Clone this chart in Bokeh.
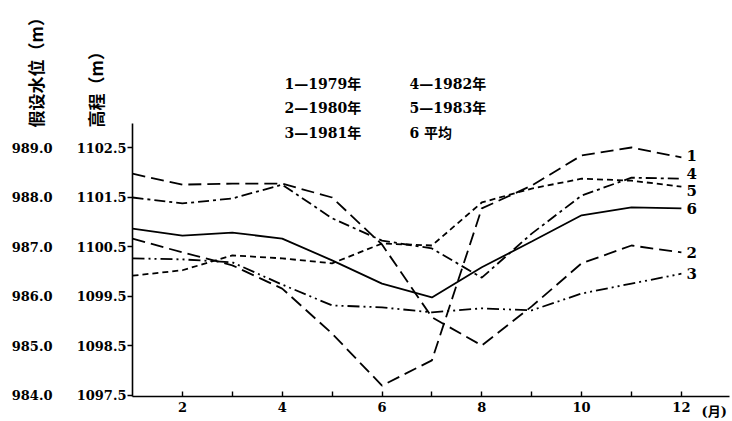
import numpy as np
from bokeh.plotting import figure
from bokeh.models import Range1d, LinearAxis, FixedTicker, Label, ColumnDataSource
from bokeh.core.properties import value
from bokeh.embed import file_html
from bokeh.resources import INLINE

# ---------------- data ----------------
months = [1, 2, 3, 4, 5, 6, 7, 8, 9, 10, 11, 12]
elev_1979 = [1100.66, 1100.38, 1100.12, 1099.65, 1098.74, 1097.69, 1098.20, 1101.27, 1101.73, 1102.34, 1102.50, 1102.30]
elev_1980 = [1101.97, 1101.75, 1101.77, 1101.77, 1101.49, 1100.54, 1099.07, 1098.50, 1099.29, 1100.16, 1100.52, 1100.38]
elev_1981 = [1100.26, 1100.24, 1100.18, 1099.73, 1099.31, 1099.27, 1099.17, 1099.25, 1099.21, 1099.55, 1099.75, 1099.95]
elev_1982 = [1101.49, 1101.37, 1101.47, 1101.75, 1101.07, 1100.62, 1100.46, 1099.87, 1100.76, 1101.53, 1101.89, 1101.87]
elev_1983 = [1099.91, 1100.02, 1100.32, 1100.26, 1100.16, 1100.56, 1100.52, 1101.39, 1101.67, 1101.87, 1101.83, 1101.71]
elev_mean = [1100.86, 1100.72, 1100.78, 1100.66, 1100.22, 1099.75, 1099.47, 1100.08, 1100.60, 1101.13, 1101.29, 1101.27]

series_ids = ["1", "2", "3", "4", "5", "6"]
legend_texts = ["1—1979年", "2—1980年", "3—1981年", "4—1982年", "5—1983年", "6  平均"]
x_ticks = [2, 3, 4, 5, 6, 7, 8, 9, 10, 11, 12]
x_tick_labels = ["2", "", "4", "", "6", "", "8", "", "10", "", "12"]
elev_ticks = [1097.5, 1098.5, 1099.5, 1100.5, 1101.5, 1102.5]
elev_tick_labels = ["1097.5", "1098.5", "1099.5", "1100.5", "1101.5", "1102.5"]
water_ticks = [984.0, 985.0, 986.0, 987.0, 988.0, 989.0]
water_tick_labels = ["984.0", "985.0", "986.0", "987.0", "988.0", "989.0"]
elev_minus_water = 113.5
x_unit_label = "(月)"
y_title_water = "假设水位（m）"
y_title_elev = "高程（m）"

# ---------------- styles / layout ----------------
series = [elev_1979, elev_1980, elev_1981, elev_1982, elev_1983, elev_mean]
dashes = ["13 6", "13 6", "12 4 2 4 2 4", "11 4 3 4", "6 4", "solid"]
end_label_dy = [-2, 0, 0, -5, 4, 0]
NUM_FONT = "DejaVu Serif"
CJK_FONT = "DejaVu Serif, Noto Sans CJK SC"

W, H = 732, 421
ORIGIN = 0

# pixel position in the picture -> data coordinates
def px2x(px):
    return 1 + (px - 132) / 49.9

def py2y(py):
    return 1102.5 - (py - 147) / 49.5

X_START, X_END = px2x(ORIGIN), px2x(ORIGIN + W)
Y_START, Y_END = py2y(ORIGIN + H), py2y(ORIGIN)
AX_X_LO, AX_X_HI = 1.0, px2x(729)
AX_Y_LO, AX_Y_HI = py2y(396), py2y(123)

p = figure(width=W, height=H,
           x_range=Range1d(X_START, X_END), y_range=Range1d(Y_START, Y_END),
           output_backend="svg", toolbar_location=None,
           min_border_left=0, min_border_right=0,
           min_border_top=0, min_border_bottom=0)
p.outline_line_color = None
p.grid.visible = False
p.background_fill_color = "white"
p.border_fill_color = "white"
p.extra_y_ranges = {"water": Range1d(Y_START - elev_minus_water, Y_END - elev_minus_water)}

# x axis
xa = p.xaxis[0]
xa.fixed_location = AX_Y_LO
xa.bounds = (AX_X_LO, AX_X_HI)
xa.ticker = FixedTicker(ticks=x_ticks)
xa.major_label_overrides = {t: l for t, l in zip(x_ticks, x_tick_labels)}
xa.major_tick_in = 5
xa.major_tick_out = 0
xa.minor_tick_line_color = None
xa.axis_line_width = 1.6
xa.major_tick_line_width = 1.4
xa.major_label_standoff = 5
xa.major_label_text_font = NUM_FONT
xa.major_label_text_font_style = "bold"
xa.major_label_text_font_size = "13px"
xa.major_label_text_color = "black"

# inner (elevation) axis
ya = p.yaxis[0]
ya.fixed_location = AX_X_LO
ya.bounds = (AX_Y_LO, AX_Y_HI)
ya.ticker = FixedTicker(ticks=elev_ticks)
ya.major_label_overrides = {t: l for t, l in zip(elev_ticks, elev_tick_labels)}
ya.major_tick_in = 0
ya.major_tick_out = 5
ya.minor_tick_line_color = None
ya.axis_line_width = 1.6
ya.major_tick_line_width = 1.4
ya.major_label_standoff = 1
ya.major_label_text_font = NUM_FONT
ya.major_label_text_font_style = "bold"
ya.major_label_text_font_size = "13px"
ya.major_label_text_color = "black"

# outer (assumed water level) axis
wa = LinearAxis(y_range_name="water", ticker=FixedTicker(ticks=water_ticks))
wa.fixed_location = px2x(54)
wa.major_label_overrides = {t: l for t, l in zip(water_ticks, water_tick_labels)}
wa.axis_line_color = None
wa.major_tick_line_color = None
wa.minor_tick_line_color = None
wa.major_tick_out = 0
wa.major_tick_in = 0
wa.major_label_standoff = 2
wa.major_label_text_font = NUM_FONT
wa.major_label_text_font_style = "bold"
wa.major_label_text_font_size = "13px"
wa.major_label_text_color = "black"
p.add_layout(wa, "left")

# lines
for ys, dash in zip(series, dashes):
    p.line(months, ys, line_color="black", line_width=1.8, line_dash=dash)

# end labels
src = ColumnDataSource(dict(x=[months[-1]] * len(series), y=[s[-1] for s in series],
                            t=series_ids, dy=end_label_dy))
p.text(x="x", y="y", text="t", source=src, x_offset=5, y_offset="dy",
       text_font=value(NUM_FONT), text_font_style="bold", text_font_size="15px",
       text_baseline="middle", text_align="left", text_color="black")

# legend block
leg_pos = [(284, 83), (284, 107), (284, 132), (409, 83), (409, 107), (409, 132)]
for txt, (lx, ly) in zip(legend_texts, leg_pos):
    p.add_layout(Label(x=px2x(lx), y=py2y(ly), text=txt, text_font=CJK_FONT,
                       text_font_style="bold", text_font_size="14px",
                       text_baseline="middle", text_align="left", text_color="black"))

# axis titles (vertical)
for txt, (lx, ly) in zip([y_title_water, y_title_elev], [(35, 127), (95, 127)]):
    p.add_layout(Label(x=px2x(lx), y=py2y(ly), text=txt, angle=np.pi / 2,
                       text_font="Noto Sans CJK SC", text_font_size="17px",
                       text_font_style="bold",
                       text_baseline="middle", text_align="left", text_color="black"))

# month unit
p.add_layout(Label(x=px2x(701), y=py2y(403), text=x_unit_label, text_font=CJK_FONT,
                   text_font_style="bold", text_font_size="13px",
                   text_baseline="top", text_align="left", text_color="black"))

open("out.html", "w").write(file_html(p, INLINE))
